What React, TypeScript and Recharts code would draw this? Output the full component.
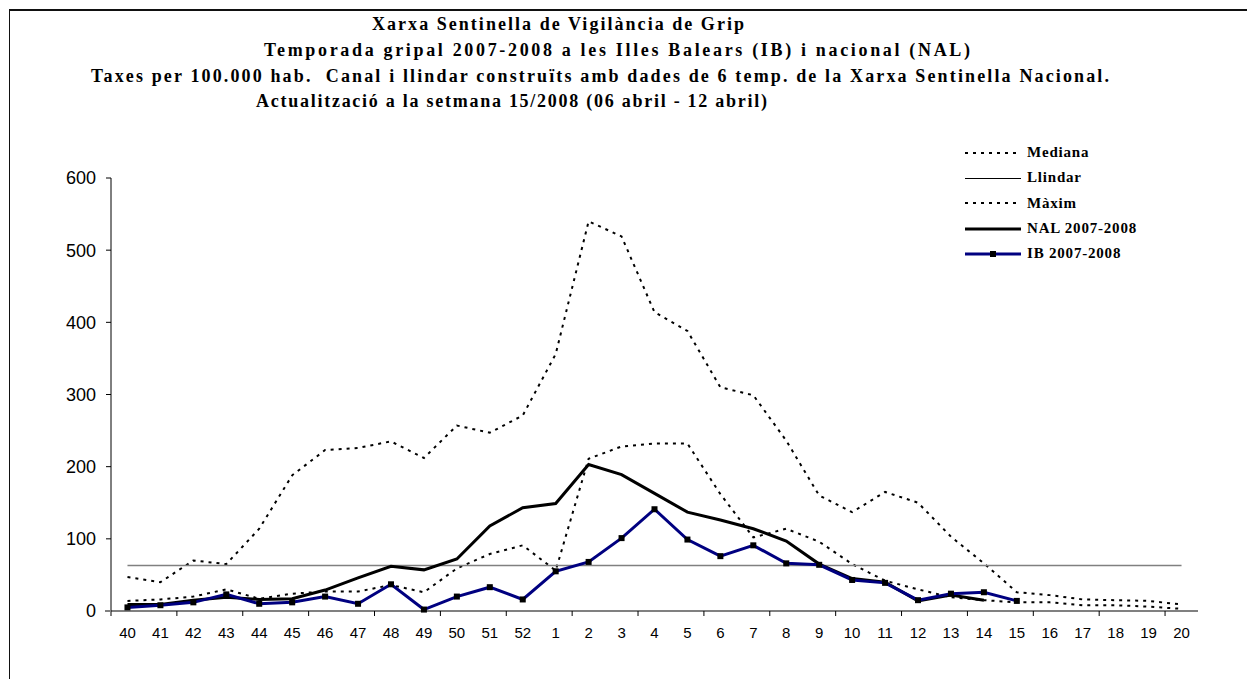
import { LineChart, Line, XAxis, YAxis } from 'recharts';

const weeks = [
  '40', '41', '42', '43', '44', '45', '46', '47', '48', '49', '50', '51', '52',
  '1', '2', '3', '4', '5', '6', '7', '8', '9', '10', '11', '12', '13', '14', '15', '16', '17', '18', '19', '20',
];

const mediana = [
  14, 16, 20, 30, 17, 24, 27, 27, 36, 26, 59, 79, 91,
  56, 211, 228, 232, 232, 162, 102, 114, 96, 65, 42, 30, 19, 15, 12, 12, 8, 8, 6, 3,
];

const maxim = [
  47, 40, 70, 65, 114, 188, 223, 226, 235, 212, 257, 247, 271,
  356, 540, 519, 414, 388, 310, 299, 236, 160, 137, 165, 150, 103, 66, 26, 22, 16, 15, 14, 9,
];

const LLINDAR = 63;

const nal: (number | null)[] = [
  9, 9, 15, 19, 16, 17, 29, 46, 62, 57, 72, 118, 143,
  149, 203, 189, 163, 137, 126, 114, 97, 65, 45, 40, 14, 22, 15, null, null, null, null, null, null,
];

const ib: (number | null)[] = [
  5, 8, 12, 23, 10, 12, 20, 10, 37, 2, 20, 33, 16,
  55, 68, 101, 141, 99, 76, 91, 66, 64, 43, 39, 15, 24, 26, 14, null, null, null, null, null,
];

const yTicks = [0, 100, 200, 300, 400, 500, 600];

const titleLines = [
  'Xarxa Sentinella de Vigilància de Grip',
  'Temporada gripal 2007-2008 a les Illes Balears (IB) i nacional (NAL)',
  'Taxes per 100.000 hab.  Canal i llindar construïts amb dades de 6 temp. de la Xarxa Sentinella Nacional.',
  'Actualització a la setmana 15/2008 (06 abril - 12 abril)',
];

const data = weeks.map((week, i) => ({
  i,
  week,
  mediana: mediana[i],
  llindar: LLINDAR,
  maxim: maxim[i],
  nal: nal[i],
  ib: ib[i],
}));

const SERIF = "'Liberation Serif', 'Times New Roman', serif";
const SANS = "'Liberation Sans', Arial, sans-serif";

// title line placement (start x, baseline y, drawn width)
const titlePos = [
  { x: 372, y: 30, w: 372 },
  { x: 264, y: 56, w: 706 },
  { x: 91, y: 82, w: 1018 },
  { x: 256, y: 107, w: 511 },
];

function WeekTick(props: any) {
  const { x, y, payload, index, width } = props;
  const half = width / weeks.length / 2;
  return (
    <g>
      {index % 2 === 0 && (
        <line x1={x - half} x2={x - half} y1={y} y2={y + 5} stroke="#000" strokeWidth={1} />
      )}
      {index === 0 && <line x1={x - half - 6} x2={x - half} y1={y} y2={y} stroke="#808080" strokeWidth={2} />}
      <text x={x} y={y + 27} textAnchor="middle" fontFamily={SANS} fontSize={15} fill="#000">
        {weeks[payload.value]}
      </text>
    </g>
  );
}

function SquareDot(props: any) {
  const { cx, cy, value } = props;
  if (value == null || cx == null) return null;
  return <rect x={cx - 3} y={cy - 3} width={6} height={6} fill="#000" />;
}

const legendItems = [
  { label: 'Mediana', kind: 'dash' },
  { label: 'Llindar', kind: 'thin' },
  { label: 'Màxim', kind: 'dash' },
  { label: 'NAL 2007-2008', kind: 'nal' },
  { label: 'IB 2007-2008', kind: 'ib' },
];

function LegendSample({ kind }: { kind: string }) {
  return (
    <svg width={56} height={10} style={{ display: 'block' }}>
      {kind === 'dash' && <line x1={0} x2={56} y1={5} y2={5} stroke="#000" strokeWidth={2} strokeDasharray="3 5" />}
      {kind === 'thin' && <line x1={0} x2={56} y1={5.5} y2={5.5} stroke="#000" strokeWidth={1} />}
      {kind === 'nal' && <line x1={0} x2={56} y1={5} y2={5} stroke="#000" strokeWidth={3} />}
      {kind === 'ib' && (
        <g>
          <line x1={0} x2={56} y1={5} y2={5} stroke="#000080" strokeWidth={3} />
          <rect x={25} y={2} width={6} height={6} fill="#000" />
        </g>
      )}
    </svg>
  );
}

export default function App() {
  return (
    <div style={{ position: 'relative', width: 1247, height: 679, overflow: 'hidden', background: '#fff' }}>
      <style>{'body{margin:0}'}</style>
      <div
        style={{
          position: 'absolute',
          left: 9,
          top: 9,
          width: 1400,
          height: 800,
          borderTop: '2px solid #111',
          borderLeft: '1.5px solid #111',
        }}
      />
      <svg width={1247} height={130} style={{ position: 'absolute', left: 0, top: 0 }}>
        {titleLines.map((t, k) => (
          <text
            key={k}
            x={titlePos[k].x}
            y={titlePos[k].y}
            textLength={titlePos[k].w}
            lengthAdjust="spacing"
            fontFamily={SERIF}
            fontWeight="bold"
            fontSize={18}
            fill="#000"
            style={{ whiteSpace: 'pre' }}
          >
            {t}
          </text>
        ))}
      </svg>
      <div style={{ position: 'absolute', left: 0, top: 0 }}>
        <LineChart width={1247} height={679} data={data} margin={{ top: 178, right: 49, bottom: 38, left: 51 }}>
          <XAxis
            dataKey="i"
            type="number"
            domain={[-0.5, weeks.length - 0.5]}
            ticks={weeks.map((_, i) => i)}
            interval={0}
            tick={<WeekTick />}
            tickLine={false}
            tickSize={0}
            tickMargin={0}
            height={30}
            axisLine={{ stroke: '#808080', strokeWidth: 2 }}
          />
          <YAxis
            domain={[0, 600]}
            ticks={yTicks}
            interval={0}
            width={60}
            tickSize={5}
            tickMargin={10}
            axisLine={{ stroke: '#000', strokeWidth: 1 }}
            tickLine={{ stroke: '#000' }}
            tick={{ fontFamily: SANS, fontSize: 18, fill: '#000' }}
          />
          <Line dataKey="maxim" stroke="#000" strokeWidth={2} strokeDasharray="3 5" dot={false} isAnimationActive={false} />
          <Line dataKey="mediana" stroke="#000" strokeWidth={2} strokeDasharray="3 5" dot={false} isAnimationActive={false} />
          <Line dataKey="llindar" stroke="#808080" strokeWidth={1.5} dot={false} isAnimationActive={false} />
          <Line dataKey="nal" stroke="#000" strokeWidth={3} dot={false} isAnimationActive={false} />
          <Line dataKey="ib" stroke="#000080" strokeWidth={3} dot={<SquareDot />} isAnimationActive={false} />
        </LineChart>
      </div>
      <div style={{ position: 'absolute', left: 965, top: 140 }}>
        {legendItems.map((it) => (
          <div key={it.label} style={{ display: 'flex', alignItems: 'center', height: 25.3 }}>
            <LegendSample kind={it.kind} />
            <span
              style={{
                marginLeft: 6,
                fontFamily: SERIF,
                fontWeight: 'bold',
                fontSize: 15,
                letterSpacing: 0.8,
                color: '#000',
              }}
            >
              {it.label}
            </span>
          </div>
        ))}
      </div>
    </div>
  );
}
